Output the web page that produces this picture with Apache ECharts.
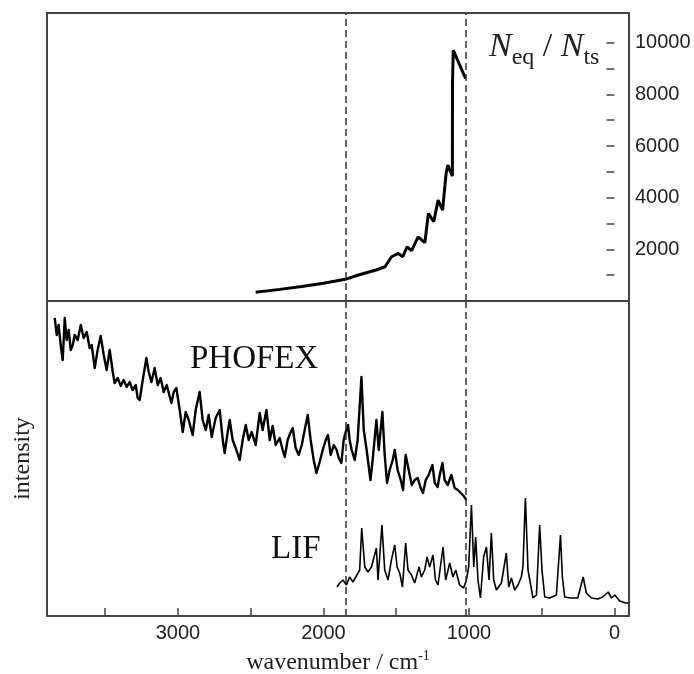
<!DOCTYPE html>
<html>
<head>
<meta charset="utf-8">
<script src="https://cdn.jsdelivr.net/npm/echarts@6/dist/echarts.min.js"></script>
<style>
html,body{margin:0;padding:0;background:#fff;}
#chart{width:694px;height:674px;}
</style>
</head>
<body>
<div id="chart"></div>
<script>
// ---- data ----
const wavenumberTicks = [3500, 3000, 2500, 2000, 1500, 1000, 500, 0];
const wavenumberLabels = [3000, 2000, 1000, 0];
const ratioTicks = [1000, 2000, 3000, 4000, 5000, 6000, 7000, 8000, 9000, 10000];
const ratioLabels = [2000, 4000, 6000, 8000, 10000];
const dashedLines = [1850, 1020];

const neqWavenumber = [2466, 2300, 2150, 2000, 1851, 1760, 1638, 1577, 1532, 1486, 1455, 1425, 1394, 1349, 1303, 1279, 1242, 1212, 1181, 1157, 1145, 1114, 1113, 1108, 1023];
const neqRatio = [337, 450, 560, 690, 839, 1006, 1199, 1327, 1714, 1845, 1714, 2100, 1946, 2487, 2255, 3393, 3068, 3907, 3520, 4940, 5261, 4836, 8422, 9710, 8615];

const phofexWavenumber = [3847, 3833, 3820, 3806, 3792, 3778, 3765, 3751, 3737, 3723, 3710, 3689, 3668, 3648, 3627, 3607, 3593, 3572, 3552, 3531, 3510, 3490, 3469, 3448, 3435, 3414, 3393, 3373, 3352, 3332, 3311, 3290, 3277, 3263, 3242, 3217, 3201, 3182, 3160, 3139, 3119, 3098, 3077, 3045, 3029, 3011, 2988, 2967, 2947, 2926, 2899, 2878, 2851, 2830, 2809, 2789, 2768, 2741, 2713, 2692, 2679, 2658, 2644, 2624, 2603, 2576, 2555, 2534, 2514, 2493, 2466, 2438, 2418, 2392, 2369, 2349, 2328, 2301, 2280, 2266, 2246, 2225, 2211, 2191, 2170, 2149, 2129, 2108, 2088, 2067, 2048, 2026, 2005, 1984, 1969, 1950, 1929, 1909, 1895, 1877, 1861, 1847, 1831, 1820, 1806, 1785, 1765, 1739, 1723, 1703, 1677, 1662, 1636, 1620, 1595, 1579, 1563, 1545, 1524, 1510, 1490, 1469, 1453, 1435, 1414, 1393, 1373, 1352, 1332, 1316, 1297, 1277, 1251, 1235, 1215, 1201, 1182, 1167, 1146, 1121, 1098, 1077, 1057, 1036, 1018];
const phofexIntensity = [298, 281, 291, 271, 256, 298, 276, 286, 266, 271, 281, 276, 291, 278, 284, 268, 271, 248, 266, 280, 261, 246, 266, 244, 233, 238, 230, 236, 229, 234, 226, 231, 218, 216, 236, 258, 244, 234, 248, 231, 238, 224, 231, 213, 224, 228, 206, 184, 204, 196, 181, 206, 224, 196, 186, 201, 179, 198, 206, 176, 163, 184, 196, 176, 168, 156, 176, 191, 176, 184, 171, 203, 186, 206, 176, 190, 171, 178, 166, 159, 176, 184, 188, 168, 161, 171, 186, 201, 176, 156, 143, 154, 166, 176, 181, 161, 171, 166, 158, 153, 176, 184, 191, 176, 166, 156, 176, 239, 186, 166, 136, 156, 196, 166, 204, 161, 133, 146, 156, 166, 146, 136, 126, 161, 146, 131, 136, 138, 128, 123, 136, 141, 151, 133, 129, 141, 153, 136, 131, 141, 128, 126, 123, 120, 116];

const lifWavenumber = [1907, 1888, 1866, 1842, 1820, 1797, 1774, 1751, 1737, 1716, 1694, 1670, 1636, 1625, 1598, 1579, 1556, 1533, 1510, 1494, 1476, 1457, 1435, 1419, 1395, 1373, 1343, 1327, 1304, 1288, 1270, 1247, 1230, 1213, 1178, 1160, 1132, 1110, 1091, 1064, 1036, 1018, 1002, 983, 967, 954, 938, 921, 899, 880, 862, 846, 830, 811, 777, 743, 727, 708, 686, 663, 640, 629, 612, 594, 578, 560, 536, 514, 498, 479, 445, 399, 371, 358, 342, 301, 252, 215, 193, 158, 115, 81, 43, 21, -2, -36, -77, -95];
const lifIntensity = [29, 33, 36, 31, 39, 34, 40, 46, 88, 49, 44, 49, 68, 36, 91, 46, 36, 56, 71, 49, 43, 29, 73, 46, 41, 33, 49, 39, 46, 59, 49, 61, 36, 31, 69, 36, 53, 39, 46, 31, 28, 36, 49, 111, 49, 79, 36, 18, 59, 69, 36, 83, 36, 26, 33, 63, 29, 38, 26, 31, 39, 49, 118, 46, 33, 18, 21, 91, 46, 19, 18, 21, 81, 39, 19, 18, 18, 39, 23, 18, 17, 19, 24, 18, 21, 15, 13, 13];

const zip = (xs, ys) => xs.map((x, i) => [x, ys[i]]);

const sansNarrow = '"Liberation Sans Narrow", "Liberation Sans", Arial, sans-serif';
const serif = '"Liberation Serif", "DejaVu Serif", serif';
const plain = v => String(v);

const chart = echarts.init(document.getElementById('chart'), null, {renderer: 'canvas'});

const dashMark = {
  silent: true,
  symbol: ['none', 'none'],
  label: {show: false},
  lineStyle: {color: '#333', width: 1.5, type: [7, 4]},
  data: dashedLines.map(v => ({xAxis: v}))
};

const xBase = {
  type: 'value', min: -100, max: 3900, inverse: true,
  splitLine: {show: false}
};

chart.setOption({
  animation: false,
  backgroundColor: '#fff',
  grid: [
    {left: 47, top: 13, width: 582, height: 288, show: true, borderColor: '#444', borderWidth: 2, outerBoundsMode: 'none', containLabel: false},
    {left: 47, top: 301, width: 582, height: 315, show: true, borderColor: '#444', borderWidth: 2, outerBoundsMode: 'none', containLabel: false}
  ],
  xAxis: [
    Object.assign({}, xBase, {gridIndex: 0, axisLine: {show: false}, axisTick: {show: false}, axisLabel: {show: false}}),
    Object.assign({}, xBase, {
      gridIndex: 1, position: 'bottom',
      axisLine: {show: false},
      axisTick: {show: true, inside: true, length: 8, lineStyle: {color: '#444', width: 1.5}, customValues: wavenumberTicks},
      axisLabel: {show: true, customValues: wavenumberLabels, formatter: plain, fontSize: 20, fontFamily: sansNarrow, color: '#222', margin: 7},
      name: 'wavenumber / cm{sup|-1}',
      nameLocation: 'middle', nameGap: 33,
      nameTextStyle: {fontFamily: serif, fontSize: 24, color: '#222', lineHeight: 28,
        rich: {sup: {fontFamily: serif, fontSize: 14, color: '#222', verticalAlign: 'top', lineHeight: 16}}}
    })
  ],
  yAxis: [
    {
      type: 'value', gridIndex: 0, position: 'right', min: 0, max: 11150,
      splitLine: {show: false},
      axisLine: {show: false},
      axisTick: {show: true, inside: true, length: 8, lineStyle: {color: '#444', width: 1.5}, customValues: ratioTicks},
      axisLabel: {show: true, customValues: ratioLabels, formatter: plain, fontSize: 20, fontFamily: sansNarrow, color: '#222', margin: 6}
    },
    {
      type: 'value', gridIndex: 1, min: 0, max: 315,
      splitLine: {show: false}, axisLine: {show: false}, axisTick: {show: false}, axisLabel: {show: false},
      name: 'intensity', nameLocation: 'middle', nameGap: 12, nameRotate: 90,
      nameTextStyle: {fontFamily: serif, fontSize: 24, color: '#222'}
    }
  ],
  series: [
    {
      name: 'Neq/Nts', type: 'line', xAxisIndex: 0, yAxisIndex: 0,
      data: zip(neqWavenumber, neqRatio), showSymbol: false, symbol: 'none',
      lineStyle: {color: '#000', width: 3}, markLine: dashMark
    },
    {
      name: 'PHOFEX', type: 'line', xAxisIndex: 1, yAxisIndex: 1,
      data: zip(phofexWavenumber, phofexIntensity), showSymbol: false, symbol: 'none',
      lineStyle: {color: '#000', width: 2.4, join: 'round'}, markLine: dashMark
    },
    {
      name: 'LIF', type: 'line', xAxisIndex: 1, yAxisIndex: 1,
      data: zip(lifWavenumber, lifIntensity), showSymbol: false, symbol: 'none',
      lineStyle: {color: '#000', width: 1.6}
    }
  ],
  graphic: [
    {type: 'text', left: 190, top: 343, style: {text: 'PHOFEX', font: '33px ' + serif, fill: '#111'}},
    {type: 'text', left: 271, top: 533, style: {text: 'LIF', font: '33px ' + serif, fill: '#111'}},
    {type: 'text', left: 489, top: 30, style: {
      text: '{N|N}{s|eq}{t| / }{N|N}{s|ts}',
      rich: {
        N: {fontFamily: serif, fontStyle: 'italic', fontSize: 34, lineHeight: 46, fill: '#222'},
        t: {fontFamily: serif, fontSize: 34, lineHeight: 46, fill: '#222'},
        s: {fontFamily: serif, fontSize: 24, lineHeight: 26, verticalAlign: 'bottom', fill: '#222'}
      }
    }}
  ]
});
</script>
</body>
</html>
